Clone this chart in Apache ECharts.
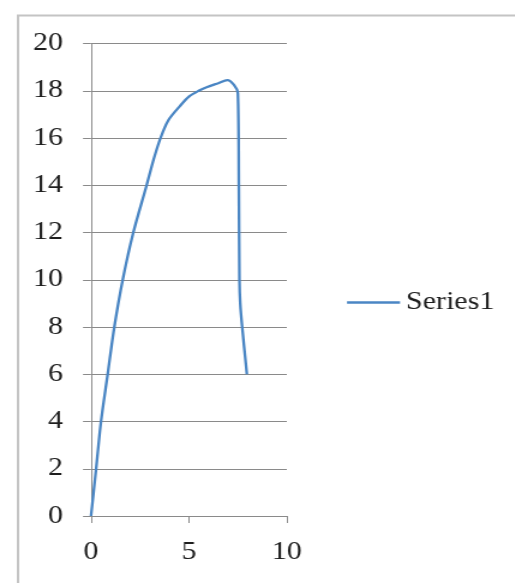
<!DOCTYPE html>
<html>
<head>
<meta charset="utf-8">
<script src="https://cdn.jsdelivr.net/npm/echarts@6/dist/echarts.min.js"></script>
<style>
  html, body { margin: 0; padding: 0; background: #ffffff; overflow: hidden; }
  /* the chart is laid out narrower and widened 1.2x, giving the broad serif lettering */
  #chart { width: 429.17px; height: 583px; transform: scaleX(1.2); transform-origin: 0 0; }
</style>
</head>
<body>
<div id="chart"></div>
<script>
// Load–deformation style curve: rises, peaks near 18.5, then drops sharply
const strain = [0, 0.26, 0.51, 0.85, 1.19, 1.62, 2.16, 2.84, 3.2, 3.55, 3.95, 4.54, 5.0, 5.5, 5.9, 6.5, 6.96, 7.3, 7.5, 7.55, 7.58, 7.62, 7.72, 7.96];
const stress = [0, 2, 4, 6, 8, 10, 12, 14, 15.1, 16, 16.75, 17.35, 17.75, 18.0, 18.15, 18.32, 18.45, 18.25, 17.9, 14, 10, 9, 8, 6];
const seriesName = 'Series1';
const xTicks = { min: 0, max: 10, step: 5 };
const yTicks = { min: 0, max: 20, step: 2 };

const points = strain.map((x, i) => [x, stress[i]]);

const sx = 1 / 1.2; // horizontal layout units before widening
const font = '"Liberation Serif", "Times New Roman", serif';
const gridGray = '#8a8a8a';
const textColor = '#1e1e1e';

const chart = echarts.init(document.getElementById('chart'), null, { renderer: 'canvas' });
chart.setOption({
  backgroundColor: '#ffffff',
  animation: false,
  graphic: [{
    type: 'rect',
    left: 15 * sx, top: 13,
    shape: { x: 0, y: 0, width: 520 * sx, height: 590 },
    style: { fill: 'none', stroke: '#c4c4c4', lineWidth: 2 },
    silent: true,
    z: -1
  }],
  grid: { left: 91 * sx, right: 228 * sx, top: 43.5, bottom: 67, containLabel: false },
  legend: {
    data: [seriesName],
    left: 341 * sx,
    top: 285,
    icon: 'rect',
    itemWidth: 53 * sx,
    itemHeight: 2.5,
    itemGap: 4,
    textStyle: { fontFamily: font, fontSize: 25, color: textColor }
  },
  xAxis: {
    type: 'value',
    min: xTicks.min, max: xTicks.max, interval: xTicks.step,
    axisLine: { show: true, lineStyle: { color: gridGray, width: 1 } },
    axisTick: { show: true, length: 7, lineStyle: { color: gridGray, width: 1 } },
    splitLine: { show: false },
    axisLabel: { margin: 24, fontFamily: font, fontSize: 25, color: textColor }
  },
  yAxis: {
    type: 'value',
    min: yTicks.min, max: yTicks.max, interval: yTicks.step,
    axisLine: { show: true, lineStyle: { color: gridGray, width: 1 } },
    axisTick: { show: true, length: 8 * sx, lineStyle: { color: gridGray } },
    splitLine: { show: true, lineStyle: { color: gridGray, width: 1 } },
    axisLabel: { margin: 28 * sx, fontFamily: font, fontSize: 25, color: textColor }
  },
  series: [{
    name: seriesName,
    type: 'line',
    data: points,
    showSymbol: false,
    smooth: 0.3,
    lineStyle: { color: '#4a86c4', width: 2.3 },
    itemStyle: { color: '#4a86c4' }
  }]
});
</script>
</body>
</html>
